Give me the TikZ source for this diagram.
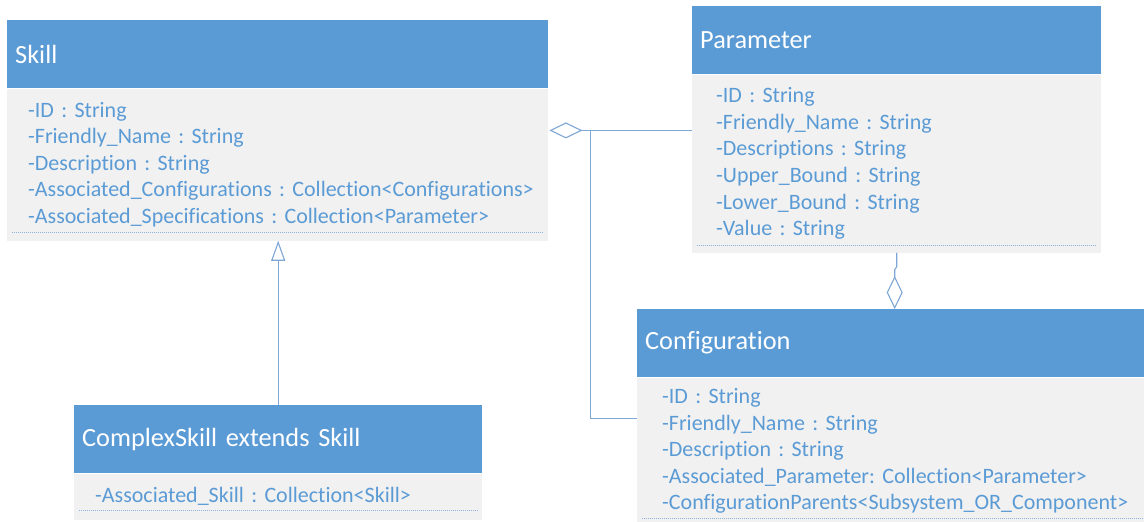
\documentclass[tikz,border=0pt]{standalone}
\usepackage{fontspec}
\setmainfont[Ligatures=NoCommon]{Carlito}
\usetikzlibrary{arrows.meta,calc}

\definecolor{hdr}{HTML}{5B9BD5}
\definecolor{attr}{HTML}{5B9BD5}
\definecolor{bodybg}{HTML}{F1F1F1}
\definecolor{wire}{HTML}{7FA7D6}
\definecolor{sepline}{HTML}{8FB2DC}

\tikzset{
  classhead/.style={anchor=north west, fill=hdr, text=white, inner xsep=8pt, inner ysep=0pt,
    minimum height=68pt, align=left, font=\fontsize{26.3}{30}\selectfont\frenchspacing},
  classbody/.style={anchor=north west, fill=bodybg, text=attr, inner ysep=0pt,
    align=left, font=\fontsize{22}{26.6}\selectfont\frenchspacing},
  sep/.style={draw=sepline, line width=0.8pt, dash pattern=on 1pt off 1pt},
  link/.style={draw=wire, line width=1.1pt},
  aggr/.style={link, -{Diamond[open, length=33pt, width=16pt, line width=1.1pt]}},
  inherit/.style={link, -{Triangle[open, length=20pt, width=14pt, line width=1.1pt]}}
}

\begin{document}
\begin{tikzpicture}[x=1pt, y=1pt]
\clip (0,0) rectangle (1144,522);
\fill[white] (0,0) rectangle (1144,522);

% Skill
\node[classhead, text width=525pt] (skillhead) at (7,502) {Skill};
\node[classbody, text width=499pt, inner xsep=21pt, minimum height=152pt] (skillbody) at (skillhead.south west)
  {\mbox{-ID : String}\\
   \mbox{-Friendly\_Name : String}\\
   \mbox{-Description : String}\\
   \mbox{-Associated\_Configurations : Collection<Configurations>}\\
   \mbox{-Associated\_Specifications : Collection<Parameter>}};
\draw[sep] ($(skillbody.south west)+(5,8)$) -- ($(skillbody.south east)+(-5,8)$);

% Parameter
\node[classhead, text width=393pt] (paramhead) at (692,516) {Parameter};
\node[classbody, text width=361pt, inner xsep=24pt, minimum height=178pt] (parambody) at (paramhead.south west)
  {-ID : String\\
   -Friendly\_Name : String\\
   -Descriptions : String\\
   -Upper\_Bound : String\\
   -Lower\_Bound : String\\
   -Value : String};
\draw[sep] ($(parambody.south west)+(5,7)$) -- ($(parambody.south east)+(-5,7)$);

% Configuration
\node[classhead, text width=504pt] (confhead) at (637,213) {Configuration};
\node[classbody, text width=470pt, inner xsep=25pt, minimum height=147pt] (confbody) at (confhead.south west)
  {-ID : String\\
   -Friendly\_Name : String\\
   -Description : String\\
   \mbox{-Associated\_Parameter: Collection<Parameter>}\\
   \mbox{-ConfigurationParents<Subsystem\_OR\_Component>}};
\draw[sep] ($(confbody.south west)+(5,6)$) -- ($(confbody.south east)+(-5,6)$);

% ComplexSkill
\node[classhead, text width=392pt] (cshead) at (74,117) {ComplexSkill extends Skill};
\node[classbody, text width=366pt, inner xsep=21pt, minimum height=46pt] (csbody) at (cshead.south west)
  {\mbox{-Associated\_Skill : Collection<Skill>}};
\draw[sep] ($(csbody.south west)+(5,9)$) -- ($(csbody.south east)+(-5,9)$);

% Connectors
\coordinate (aggS) at ($(skillbody.north east)+(1,-42)$);
\coordinate (branch) at ($(aggS)+(41,0)$);
\coordinate (cjoin) at ($(confbody.north west)+(0,-41)$);
\coordinate (pc) at ($(parambody.south)+(-2,-17)$);

\draw[inherit] (cshead.north) -- (cshead.north |- skillbody.south);
\draw[aggr] (parambody.west |- aggS) -- (aggS);
\draw[link] (branch) |- (cjoin);
\draw[aggr] (parambody.south) -- ++(0,-14) -- (pc) -- (pc |- confhead.north);
\end{tikzpicture}
\end{document}
